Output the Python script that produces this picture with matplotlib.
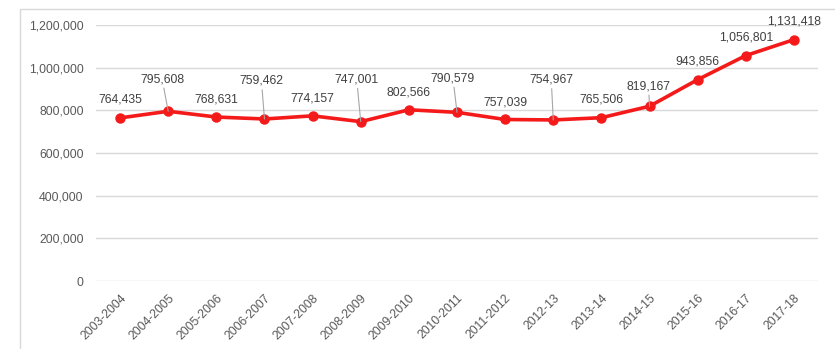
import matplotlib
matplotlib.use("Agg")
import matplotlib.pyplot as plt
from matplotlib.patches import Rectangle
from matplotlib.ticker import FuncFormatter

plt.rcParams['font.family'] = ['Liberation Sans', 'DejaVu Sans']

# Data
years = ["2003-2004", "2004-2005", "2005-2006", "2006-2007", "2007-2008",
         "2008-2009", "2009-2010", "2010-2011", "2011-2012", "2012-13",
         "2013-14", "2014-15", "2015-16", "2016-17", "2017-18"]
values = [764435, 795608, 768631, 759462, 774157, 747001, 802566, 790579,
          757039, 754967, 765506, 819167, 943856, 1056801, 1131418]

# label offsets in pixels (dx, dy) and whether a leader line is drawn
label_dx = [0, -6, 0, -3, 0, -4, 0, -4, 0, -2, 0, -1, 0, 0, 0]
label_dy = [18, 32, 18, 38, 17, 42, 17, 34, 17, 40, 18, 20, 18, 18, 18]
leader = [False, True, False, True, False, True, False, True, False, True,
          False, True, False, False, False]

fig = plt.figure(figsize=(8.35, 3.49), dpi=100)
ax = fig.add_axes([96 / 835, 1 - 281 / 349, (818 - 96) / 835, 256 / 349])

# chart border (left and top edges visible)
fig.add_artist(Rectangle((20 / 835, -0.1), 1.2, 1.1 - 9 / 349, transform=fig.transFigure,
                         fill=False, edgecolor="#d9d9d9", linewidth=1.0))

x = list(range(len(years)))
ax.plot(x, values, color="#f51a1a", linewidth=2.6, marker="o", markersize=6.5,
        zorder=3, clip_on=False)

px = 0.72  # points per pixel at dpi 100
for i, v in enumerate(values):
    text = f"{v:,}"
    if leader[i]:
        ax.annotate(text, (i, v), xytext=(label_dx[i] * px, label_dy[i] * px),
                    textcoords="offset points", ha="center", va="center",
                    fontsize=8.8, color="#404040",
                    arrowprops=dict(arrowstyle="-", color="#a6a6a6", lw=0.8,
                                    shrinkA=0, shrinkB=0))
    else:
        ax.annotate(text, (i, v), xytext=(label_dx[i] * px, label_dy[i] * px),
                    textcoords="offset points", ha="center", va="center",
                    fontsize=8.8, color="#404040")

ax.set_xlim(-0.5, len(years) - 0.5)
ax.set_ylim(0, 1200000)
ax.set_yticks(range(0, 1200001, 200000))
ax.yaxis.set_major_formatter(FuncFormatter(lambda v, p: f"{int(v):,}"))
ax.set_xticks(x)
ax.set_xticklabels(years, rotation=45, ha="right", rotation_mode="anchor")

ax.grid(axis="y", color="#d9d9d9", linewidth=1.0)
ax.set_axisbelow(True)
for s in ax.spines.values():
    s.set_visible(False)
ax.tick_params(axis="both", length=0, labelsize=8.8, colors="#595959")
ax.tick_params(axis="y", pad=9)
ax.tick_params(axis="x", pad=8)

plt.savefig("out.png", dpi=100)
